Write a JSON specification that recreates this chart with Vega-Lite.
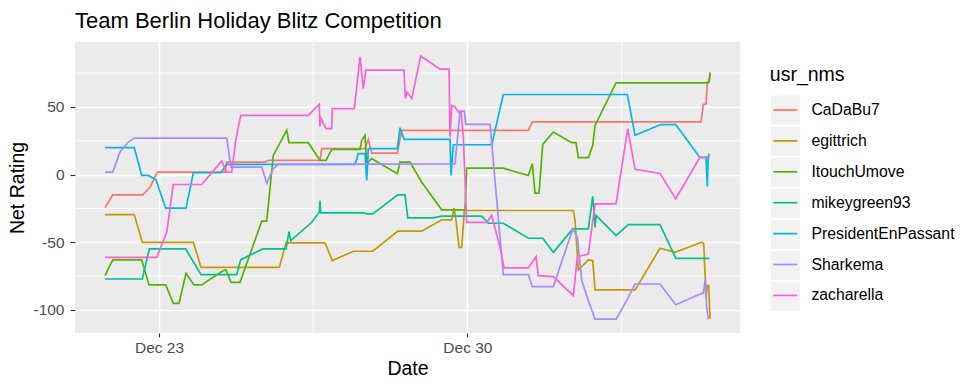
{
  "$schema": "https://vega.github.io/schema/vega-lite/v6.json",
  "width": 665,
  "height": 291,
  "autosize": {"type": "none"},
  "padding": {"left": 75, "top": 42, "right": 234, "bottom": 56},
  "background": "white",
  "view": {"fill": "#EBEBEB", "stroke": null},
  "title": {"text": "Team Berlin Holiday Blitz Competition", "anchor": "start", "frame": "group", "fontSize": 22, "font": "Liberation Sans", "fontWeight": "normal", "color": "black", "baseline": "alphabetic", "offset": 15.3, "dy": 23.7},
  "config": {
    "view": {"fill": "#EBEBEB", "stroke": null},
    "axis": {"domain": false, "labelFont": "Liberation Sans", "titleFont": "Liberation Sans", "labelFontSize": 15.5, "labelColor": "#4D4D4D", "tickColor": "#333333", "tickWidth": 1.1, "titleFontSize": 19.5, "titleFontWeight": "normal", "titleColor": "black", "gridColor": "white", "gridWidth": 1.6, "gridOpacity": 1}
  },
  "data": {"values": [
    {"usr_nms":"CaDaBu7","Date":"2018-12-21T18:35","Net_Rating":-24.5},
    {"usr_nms":"CaDaBu7","Date":"2018-12-21T22:47","Net_Rating":-14.9},
    {"usr_nms":"CaDaBu7","Date":"2018-12-22T15:07","Net_Rating":-14.9},
    {"usr_nms":"CaDaBu7","Date":"2018-12-22T19:06","Net_Rating":-9.3},
    {"usr_nms":"CaDaBu7","Date":"2018-12-22T23:04","Net_Rating":1.9},
    {"usr_nms":"CaDaBu7","Date":"2018-12-24T11:57","Net_Rating":1.9},
    {"usr_nms":"CaDaBu7","Date":"2018-12-24T12:53","Net_Rating":9.3},
    {"usr_nms":"CaDaBu7","Date":"2018-12-25T09:45","Net_Rating":9.3},
    {"usr_nms":"CaDaBu7","Date":"2018-12-25T11:33","Net_Rating":10.5},
    {"usr_nms":"CaDaBu7","Date":"2018-12-26T15:43","Net_Rating":10.5},
    {"usr_nms":"CaDaBu7","Date":"2018-12-26T16:38","Net_Rating":19.2},
    {"usr_nms":"CaDaBu7","Date":"2018-12-27T16:14","Net_Rating":19.2},
    {"usr_nms":"CaDaBu7","Date":"2018-12-27T18:02","Net_Rating":25.8},
    {"usr_nms":"CaDaBu7","Date":"2018-12-27T19:53","Net_Rating":15.9},
    {"usr_nms":"CaDaBu7","Date":"2018-12-28T09:50","Net_Rating":15.9},
    {"usr_nms":"CaDaBu7","Date":"2018-12-28T12:13","Net_Rating":32.7},
    {"usr_nms":"CaDaBu7","Date":"2018-12-31T09:11","Net_Rating":32.7},
    {"usr_nms":"CaDaBu7","Date":"2018-12-31T11:22","Net_Rating":39.0},
    {"usr_nms":"CaDaBu7","Date":"2019-01-04T07:17","Net_Rating":39.0},
    {"usr_nms":"CaDaBu7","Date":"2019-01-04T08:32","Net_Rating":52.0},
    {"usr_nms":"CaDaBu7","Date":"2019-01-04T10:00","Net_Rating":52.0},
    {"usr_nms":"CaDaBu7","Date":"2019-01-04T10:43","Net_Rating":68.5},
    {"usr_nms":"CaDaBu7","Date":"2019-01-04T11:38","Net_Rating":68.5},
    {"usr_nms":"CaDaBu7","Date":"2019-01-04T12:11","Net_Rating":75.5},

    {"usr_nms":"egittrich","Date":"2018-12-21T18:35","Net_Rating":-29.5},
    {"usr_nms":"egittrich","Date":"2018-12-22T10:32","Net_Rating":-29.5},
    {"usr_nms":"egittrich","Date":"2018-12-22T14:54","Net_Rating":-50.0},
    {"usr_nms":"egittrich","Date":"2018-12-23T18:41","Net_Rating":-50.0},
    {"usr_nms":"egittrich","Date":"2018-12-23T22:53","Net_Rating":-68.5},
    {"usr_nms":"egittrich","Date":"2018-12-25T17:32","Net_Rating":-68.5},
    {"usr_nms":"egittrich","Date":"2018-12-25T21:11","Net_Rating":-50.4},
    {"usr_nms":"egittrich","Date":"2018-12-26T18:26","Net_Rating":-50.4},
    {"usr_nms":"egittrich","Date":"2018-12-26T22:25","Net_Rating":-63.5},
    {"usr_nms":"egittrich","Date":"2018-12-27T09:51","Net_Rating":-56.6},
    {"usr_nms":"egittrich","Date":"2018-12-27T20:25","Net_Rating":-56.6},
    {"usr_nms":"egittrich","Date":"2018-12-28T10:02","Net_Rating":-41.8},
    {"usr_nms":"egittrich","Date":"2018-12-28T23:07","Net_Rating":-41.8},
    {"usr_nms":"egittrich","Date":"2018-12-29T10:01","Net_Rating":-33.4},
    {"usr_nms":"egittrich","Date":"2018-12-29T15:28","Net_Rating":-33.4},
    {"usr_nms":"egittrich","Date":"2018-12-29T16:43","Net_Rating":-24.8},
    {"usr_nms":"egittrich","Date":"2018-12-29T17:48","Net_Rating":-33.9},
    {"usr_nms":"egittrich","Date":"2018-12-29T19:26","Net_Rating":-53.7},
    {"usr_nms":"egittrich","Date":"2018-12-29T20:55","Net_Rating":-53.7},
    {"usr_nms":"egittrich","Date":"2018-12-29T22:20","Net_Rating":-26.5},
    {"usr_nms":"egittrich","Date":"2019-01-01T09:43","Net_Rating":-26.5},
    {"usr_nms":"egittrich","Date":"2019-01-01T10:38","Net_Rating":-33.9},
    {"usr_nms":"egittrich","Date":"2019-01-01T12:26","Net_Rating":-70.4},
    {"usr_nms":"egittrich","Date":"2019-01-01T17:53","Net_Rating":-63.0},
    {"usr_nms":"egittrich","Date":"2019-01-01T20:17","Net_Rating":-63.5},
    {"usr_nms":"egittrich","Date":"2019-01-01T21:32","Net_Rating":-85.2},
    {"usr_nms":"egittrich","Date":"2019-01-02T19:19","Net_Rating":-85.2},
    {"usr_nms":"egittrich","Date":"2019-01-03T08:56","Net_Rating":-54.4},
    {"usr_nms":"egittrich","Date":"2019-01-03T17:07","Net_Rating":-57.4},
    {"usr_nms":"egittrich","Date":"2019-01-04T07:40","Net_Rating":-50.0},
    {"usr_nms":"egittrich","Date":"2019-01-04T08:45","Net_Rating":-51.2},
    {"usr_nms":"egittrich","Date":"2019-01-04T10:00","Net_Rating":-90.7},
    {"usr_nms":"egittrich","Date":"2019-01-04T10:43","Net_Rating":-82.0},
    {"usr_nms":"egittrich","Date":"2019-01-04T11:29","Net_Rating":-82.0},
    {"usr_nms":"egittrich","Date":"2019-01-04T12:11","Net_Rating":-106.7},

    {"usr_nms":"ItouchUmove","Date":"2018-12-21T18:35","Net_Rating":-74.6},
    {"usr_nms":"ItouchUmove","Date":"2018-12-21T22:47","Net_Rating":-63.0},
    {"usr_nms":"ItouchUmove","Date":"2018-12-22T14:34","Net_Rating":-63.0},
    {"usr_nms":"ItouchUmove","Date":"2018-12-22T18:33","Net_Rating":-81.5},
    {"usr_nms":"ItouchUmove","Date":"2018-12-23T03:39","Net_Rating":-81.5},
    {"usr_nms":"ItouchUmove","Date":"2018-12-23T07:47","Net_Rating":-95.1},
    {"usr_nms":"ItouchUmove","Date":"2018-12-23T10:54","Net_Rating":-95.1},
    {"usr_nms":"ItouchUmove","Date":"2018-12-23T14:43","Net_Rating":-72.9},
    {"usr_nms":"ItouchUmove","Date":"2018-12-23T19:04","Net_Rating":-81.5},
    {"usr_nms":"ItouchUmove","Date":"2018-12-23T23:16","Net_Rating":-81.5},
    {"usr_nms":"ItouchUmove","Date":"2018-12-24T11:02","Net_Rating":-70.9},
    {"usr_nms":"ItouchUmove","Date":"2018-12-24T12:30","Net_Rating":-70.4},
    {"usr_nms":"ItouchUmove","Date":"2018-12-24T15:14","Net_Rating":-79.6},
    {"usr_nms":"ItouchUmove","Date":"2018-12-24T20:08","Net_Rating":-79.6},
    {"usr_nms":"ItouchUmove","Date":"2018-12-25T07:57","Net_Rating":-34.4},
    {"usr_nms":"ItouchUmove","Date":"2018-12-25T10:40","Net_Rating":-34.4},
    {"usr_nms":"ItouchUmove","Date":"2018-12-25T14:16","Net_Rating":14.2},
    {"usr_nms":"ItouchUmove","Date":"2018-12-25T21:34","Net_Rating":32.7},
    {"usr_nms":"ItouchUmove","Date":"2018-12-25T22:49","Net_Rating":23.6},
    {"usr_nms":"ItouchUmove","Date":"2018-12-26T09:20","Net_Rating":23.6},
    {"usr_nms":"ItouchUmove","Date":"2018-12-26T15:43","Net_Rating":10.5},
    {"usr_nms":"ItouchUmove","Date":"2018-12-26T18:59","Net_Rating":10.5},
    {"usr_nms":"ItouchUmove","Date":"2018-12-26T22:05","Net_Rating":18.7},
    {"usr_nms":"ItouchUmove","Date":"2018-12-27T13:30","Net_Rating":18.7},
    {"usr_nms":"ItouchUmove","Date":"2018-12-27T14:26","Net_Rating":25.3},
    {"usr_nms":"ItouchUmove","Date":"2018-12-27T16:14","Net_Rating":29.0},
    {"usr_nms":"ItouchUmove","Date":"2018-12-27T17:09","Net_Rating":8.3},
    {"usr_nms":"ItouchUmove","Date":"2018-12-27T19:53","Net_Rating":11.8},
    {"usr_nms":"ItouchUmove","Date":"2018-12-28T09:50","Net_Rating":0.7},
    {"usr_nms":"ItouchUmove","Date":"2018-12-28T11:18","Net_Rating":9.3},
    {"usr_nms":"ItouchUmove","Date":"2018-12-28T16:45","Net_Rating":9.3},
    {"usr_nms":"ItouchUmove","Date":"2018-12-28T23:07","Net_Rating":-5.6},
    {"usr_nms":"ItouchUmove","Date":"2018-12-29T10:01","Net_Rating":-26.0},
    {"usr_nms":"ItouchUmove","Date":"2018-12-29T22:42","Net_Rating":-26.0},
    {"usr_nms":"ItouchUmove","Date":"2018-12-29T23:38","Net_Rating":4.8},
    {"usr_nms":"ItouchUmove","Date":"2018-12-30T19:34","Net_Rating":4.8},
    {"usr_nms":"ItouchUmove","Date":"2018-12-31T09:11","Net_Rating":-0.6},
    {"usr_nms":"ItouchUmove","Date":"2018-12-31T11:22","Net_Rating":8.1},
    {"usr_nms":"ItouchUmove","Date":"2018-12-31T12:50","Net_Rating":-13.7},
    {"usr_nms":"ItouchUmove","Date":"2018-12-31T15:01","Net_Rating":-13.7},
    {"usr_nms":"ItouchUmove","Date":"2018-12-31T17:02","Net_Rating":22.4},
    {"usr_nms":"ItouchUmove","Date":"2018-12-31T22:49","Net_Rating":31.5},
    {"usr_nms":"ItouchUmove","Date":"2019-01-01T08:50","Net_Rating":23.6},
    {"usr_nms":"ItouchUmove","Date":"2019-01-01T11:11","Net_Rating":23.6},
    {"usr_nms":"ItouchUmove","Date":"2019-01-01T12:26","Net_Rating":12.5},
    {"usr_nms":"ItouchUmove","Date":"2019-01-01T17:53","Net_Rating":12.5},
    {"usr_nms":"ItouchUmove","Date":"2019-01-01T20:17","Net_Rating":21.6},
    {"usr_nms":"ItouchUmove","Date":"2019-01-01T21:32","Net_Rating":36.4},
    {"usr_nms":"ItouchUmove","Date":"2019-01-02T08:58","Net_Rating":67.8},
    {"usr_nms":"ItouchUmove","Date":"2019-01-04T11:16","Net_Rating":67.8},
    {"usr_nms":"ItouchUmove","Date":"2019-01-04T11:48","Net_Rating":70.3},
    {"usr_nms":"ItouchUmove","Date":"2019-01-04T12:11","Net_Rating":74.7},

    {"usr_nms":"mikeygreen93","Date":"2018-12-21T18:35","Net_Rating":-77.1},
    {"usr_nms":"mikeygreen93","Date":"2018-12-22T14:54","Net_Rating":-77.1},
    {"usr_nms":"mikeygreen93","Date":"2018-12-22T18:43","Net_Rating":-54.9},
    {"usr_nms":"mikeygreen93","Date":"2018-12-23T14:33","Net_Rating":-54.9},
    {"usr_nms":"mikeygreen93","Date":"2018-12-23T22:53","Net_Rating":-73.9},
    {"usr_nms":"mikeygreen93","Date":"2018-12-24T18:20","Net_Rating":-73.9},
    {"usr_nms":"mikeygreen93","Date":"2018-12-24T20:31","Net_Rating":-62.8},
    {"usr_nms":"mikeygreen93","Date":"2018-12-25T08:30","Net_Rating":-54.9},
    {"usr_nms":"mikeygreen93","Date":"2018-12-25T21:11","Net_Rating":-54.9},
    {"usr_nms":"mikeygreen93","Date":"2018-12-25T22:49","Net_Rating":-42.1},
    {"usr_nms":"mikeygreen93","Date":"2018-12-25T23:45","Net_Rating":-48.7},
    {"usr_nms":"mikeygreen93","Date":"2018-12-26T11:11","Net_Rating":-35.2},
    {"usr_nms":"mikeygreen93","Date":"2018-12-26T15:20","Net_Rating":-27.8},
    {"usr_nms":"mikeygreen93","Date":"2018-12-26T15:43","Net_Rating":-19.1},
    {"usr_nms":"mikeygreen93","Date":"2018-12-26T16:05","Net_Rating":-28.2},
    {"usr_nms":"mikeygreen93","Date":"2018-12-27T15:41","Net_Rating":-28.2},
    {"usr_nms":"mikeygreen93","Date":"2018-12-27T17:09","Net_Rating":-29.0},
    {"usr_nms":"mikeygreen93","Date":"2018-12-27T20:25","Net_Rating":-29.0},
    {"usr_nms":"mikeygreen93","Date":"2018-12-28T10:02","Net_Rating":-14.9},
    {"usr_nms":"mikeygreen93","Date":"2018-12-28T14:01","Net_Rating":-14.9},
    {"usr_nms":"mikeygreen93","Date":"2018-12-28T15:29","Net_Rating":-31.9},
    {"usr_nms":"mikeygreen93","Date":"2018-12-29T05:26","Net_Rating":-31.9},
    {"usr_nms":"mikeygreen93","Date":"2018-12-29T10:01","Net_Rating":-30.7},
    {"usr_nms":"mikeygreen93","Date":"2018-12-30T07:49","Net_Rating":-30.7},
    {"usr_nms":"mikeygreen93","Date":"2018-12-30T11:24","Net_Rating":-35.9},
    {"usr_nms":"mikeygreen93","Date":"2018-12-30T19:34","Net_Rating":-35.9},
    {"usr_nms":"mikeygreen93","Date":"2018-12-31T09:11","Net_Rating":-47.0},
    {"usr_nms":"mikeygreen93","Date":"2018-12-31T17:02","Net_Rating":-47.0},
    {"usr_nms":"mikeygreen93","Date":"2018-12-31T22:49","Net_Rating":-57.4},
    {"usr_nms":"mikeygreen93","Date":"2019-01-01T09:23","Net_Rating":-40.1},
    {"usr_nms":"mikeygreen93","Date":"2019-01-01T17:53","Net_Rating":-40.1},
    {"usr_nms":"mikeygreen93","Date":"2019-01-01T20:17","Net_Rating":-16.1},
    {"usr_nms":"mikeygreen93","Date":"2019-01-01T21:32","Net_Rating":-38.9},
    {"usr_nms":"mikeygreen93","Date":"2019-01-01T22:05","Net_Rating":-30.2},
    {"usr_nms":"mikeygreen93","Date":"2019-01-02T08:58","Net_Rating":-45.0},
    {"usr_nms":"mikeygreen93","Date":"2019-01-02T15:40","Net_Rating":-36.9},
    {"usr_nms":"mikeygreen93","Date":"2019-01-03T08:56","Net_Rating":-36.9},
    {"usr_nms":"mikeygreen93","Date":"2019-01-03T17:30","Net_Rating":-61.8},
    {"usr_nms":"mikeygreen93","Date":"2019-01-04T11:48","Net_Rating":-61.8},

    {"usr_nms":"PresidentEnPassant","Date":"2018-12-21T18:35","Net_Rating":19.9},
    {"usr_nms":"PresidentEnPassant","Date":"2018-12-22T10:32","Net_Rating":19.9},
    {"usr_nms":"PresidentEnPassant","Date":"2018-12-22T14:34","Net_Rating":-0.6},
    {"usr_nms":"PresidentEnPassant","Date":"2018-12-22T18:10","Net_Rating":-0.6},
    {"usr_nms":"PresidentEnPassant","Date":"2018-12-22T22:22","Net_Rating":-3.8},
    {"usr_nms":"PresidentEnPassant","Date":"2018-12-23T03:39","Net_Rating":-24.8},
    {"usr_nms":"PresidentEnPassant","Date":"2018-12-23T14:43","Net_Rating":-24.8},
    {"usr_nms":"PresidentEnPassant","Date":"2018-12-23T18:41","Net_Rating":1.4},
    {"usr_nms":"PresidentEnPassant","Date":"2018-12-24T09:37","Net_Rating":1.4},
    {"usr_nms":"PresidentEnPassant","Date":"2018-12-24T12:53","Net_Rating":7.6},
    {"usr_nms":"PresidentEnPassant","Date":"2018-12-27T10:47","Net_Rating":7.6},
    {"usr_nms":"PresidentEnPassant","Date":"2018-12-27T12:35","Net_Rating":15.5},
    {"usr_nms":"PresidentEnPassant","Date":"2018-12-27T16:14","Net_Rating":15.5},
    {"usr_nms":"PresidentEnPassant","Date":"2018-12-27T17:09","Net_Rating":-4.3},
    {"usr_nms":"PresidentEnPassant","Date":"2018-12-27T18:02","Net_Rating":19.2},
    {"usr_nms":"PresidentEnPassant","Date":"2018-12-28T09:50","Net_Rating":19.2},
    {"usr_nms":"PresidentEnPassant","Date":"2018-12-28T11:18","Net_Rating":34.7},
    {"usr_nms":"PresidentEnPassant","Date":"2018-12-28T13:29","Net_Rating":26.1},
    {"usr_nms":"PresidentEnPassant","Date":"2018-12-29T14:32","Net_Rating":26.1},
    {"usr_nms":"PresidentEnPassant","Date":"2018-12-29T15:05","Net_Rating":-0.6},
    {"usr_nms":"PresidentEnPassant","Date":"2018-12-29T16:20","Net_Rating":22.1},
    {"usr_nms":"PresidentEnPassant","Date":"2018-12-30T13:15","Net_Rating":22.1},
    {"usr_nms":"PresidentEnPassant","Date":"2018-12-30T19:34","Net_Rating":59.2},
    {"usr_nms":"PresidentEnPassant","Date":"2019-01-02T15:08","Net_Rating":59.2},
    {"usr_nms":"PresidentEnPassant","Date":"2019-01-02T19:19","Net_Rating":29.0},
    {"usr_nms":"PresidentEnPassant","Date":"2019-01-03T09:20","Net_Rating":37.0},
    {"usr_nms":"PresidentEnPassant","Date":"2019-01-03T17:30","Net_Rating":37.0},
    {"usr_nms":"PresidentEnPassant","Date":"2019-01-04T06:44","Net_Rating":12.5},
    {"usr_nms":"PresidentEnPassant","Date":"2019-01-04T10:00","Net_Rating":12.5},
    {"usr_nms":"PresidentEnPassant","Date":"2019-01-04T10:43","Net_Rating":-8.7},
    {"usr_nms":"PresidentEnPassant","Date":"2019-01-04T11:06","Net_Rating":10.5},
    {"usr_nms":"PresidentEnPassant","Date":"2019-01-04T11:38","Net_Rating":15.5},

    {"usr_nms":"Sharkema","Date":"2018-12-21T18:35","Net_Rating":1.9},
    {"usr_nms":"Sharkema","Date":"2018-12-21T22:47","Net_Rating":1.9},
    {"usr_nms":"Sharkema","Date":"2018-12-22T02:45","Net_Rating":16.7},
    {"usr_nms":"Sharkema","Date":"2018-12-22T07:16","Net_Rating":24.1},
    {"usr_nms":"Sharkema","Date":"2018-12-22T10:32","Net_Rating":27.0},
    {"usr_nms":"Sharkema","Date":"2018-12-24T12:53","Net_Rating":27.0},
    {"usr_nms":"Sharkema","Date":"2018-12-24T15:14","Net_Rating":5.6},
    {"usr_nms":"Sharkema","Date":"2018-12-25T07:57","Net_Rating":5.6},
    {"usr_nms":"Sharkema","Date":"2018-12-25T10:40","Net_Rating":-6.3},
    {"usr_nms":"Sharkema","Date":"2018-12-25T14:16","Net_Rating":4.4},
    {"usr_nms":"Sharkema","Date":"2018-12-25T16:59","Net_Rating":7.6},
    {"usr_nms":"Sharkema","Date":"2018-12-29T17:16","Net_Rating":7.9},
    {"usr_nms":"Sharkema","Date":"2018-12-29T19:59","Net_Rating":47.0},
    {"usr_nms":"Sharkema","Date":"2018-12-29T22:20","Net_Rating":47.0},
    {"usr_nms":"Sharkema","Date":"2018-12-29T23:05","Net_Rating":37.2},
    {"usr_nms":"Sharkema","Date":"2018-12-30T12:20","Net_Rating":37.2},
    {"usr_nms":"Sharkema","Date":"2018-12-30T19:34","Net_Rating":-73.9},
    {"usr_nms":"Sharkema","Date":"2018-12-31T09:11","Net_Rating":-73.9},
    {"usr_nms":"Sharkema","Date":"2018-12-31T11:22","Net_Rating":-82.8},
    {"usr_nms":"Sharkema","Date":"2018-12-31T22:49","Net_Rating":-82.8},
    {"usr_nms":"Sharkema","Date":"2019-01-01T09:23","Net_Rating":-40.1},
    {"usr_nms":"Sharkema","Date":"2019-01-01T11:53","Net_Rating":-46.3},
    {"usr_nms":"Sharkema","Date":"2019-01-01T14:17","Net_Rating":-78.3},
    {"usr_nms":"Sharkema","Date":"2019-01-01T17:53","Net_Rating":-93.1},
    {"usr_nms":"Sharkema","Date":"2019-01-01T21:32","Net_Rating":-106.7},
    {"usr_nms":"Sharkema","Date":"2019-01-02T08:58","Net_Rating":-106.7},
    {"usr_nms":"Sharkema","Date":"2019-01-02T14:48","Net_Rating":-93.1},
    {"usr_nms":"Sharkema","Date":"2019-01-02T19:19","Net_Rating":-80.8},
    {"usr_nms":"Sharkema","Date":"2019-01-03T08:56","Net_Rating":-80.8},
    {"usr_nms":"Sharkema","Date":"2019-01-03T17:30","Net_Rating":-96.1},
    {"usr_nms":"Sharkema","Date":"2019-01-04T07:40","Net_Rating":-87.7},
    {"usr_nms":"Sharkema","Date":"2019-01-04T08:32","Net_Rating":-87.7},
    {"usr_nms":"Sharkema","Date":"2019-01-04T09:37","Net_Rating":-77.1},
    {"usr_nms":"Sharkema","Date":"2019-01-04T10:23","Net_Rating":-98.1},
    {"usr_nms":"Sharkema","Date":"2019-01-04T11:16","Net_Rating":-106.7},

    {"usr_nms":"zacharella","Date":"2018-12-21T18:35","Net_Rating":-61.1},
    {"usr_nms":"zacharella","Date":"2018-12-22T22:45","Net_Rating":-61.1},
    {"usr_nms":"zacharella","Date":"2018-12-23T04:12","Net_Rating":-42.6},
    {"usr_nms":"zacharella","Date":"2018-12-23T07:47","Net_Rating":-7.3},
    {"usr_nms":"zacharella","Date":"2018-12-23T23:16","Net_Rating":-7.3},
    {"usr_nms":"zacharella","Date":"2018-12-24T10:10","Net_Rating":10.0},
    {"usr_nms":"zacharella","Date":"2018-12-24T12:53","Net_Rating":1.9},
    {"usr_nms":"zacharella","Date":"2018-12-24T15:37","Net_Rating":1.9},
    {"usr_nms":"zacharella","Date":"2018-12-24T17:47","Net_Rating":25.3},
    {"usr_nms":"zacharella","Date":"2018-12-24T20:31","Net_Rating":43.8},
    {"usr_nms":"zacharella","Date":"2018-12-26T09:20","Net_Rating":43.8},
    {"usr_nms":"zacharella","Date":"2018-12-26T15:20","Net_Rating":52.0},
    {"usr_nms":"zacharella","Date":"2018-12-26T15:36","Net_Rating":35.7},
    {"usr_nms":"zacharella","Date":"2018-12-26T16:16","Net_Rating":41.4},
    {"usr_nms":"zacharella","Date":"2018-12-26T18:59","Net_Rating":34.0},
    {"usr_nms":"zacharella","Date":"2018-12-26T22:05","Net_Rating":34.0},
    {"usr_nms":"zacharella","Date":"2018-12-26T22:25","Net_Rating":48.8},
    {"usr_nms":"zacharella","Date":"2018-12-27T10:24","Net_Rating":48.8},
    {"usr_nms":"zacharella","Date":"2018-12-27T13:30","Net_Rating":87.0},
    {"usr_nms":"zacharella","Date":"2018-12-27T15:18","Net_Rating":63.6},
    {"usr_nms":"zacharella","Date":"2018-12-27T16:37","Net_Rating":77.2},
    {"usr_nms":"zacharella","Date":"2018-12-28T13:29","Net_Rating":77.2},
    {"usr_nms":"zacharella","Date":"2018-12-28T14:11","Net_Rating":56.2},
    {"usr_nms":"zacharella","Date":"2018-12-28T15:07","Net_Rating":60.9},
    {"usr_nms":"zacharella","Date":"2018-12-28T17:40","Net_Rating":56.2},
    {"usr_nms":"zacharella","Date":"2018-12-28T22:34","Net_Rating":87.7},
    {"usr_nms":"zacharella","Date":"2018-12-29T09:05","Net_Rating":77.9},
    {"usr_nms":"zacharella","Date":"2018-12-29T13:59","Net_Rating":77.9},
    {"usr_nms":"zacharella","Date":"2018-12-29T14:32","Net_Rating":27.8},
    {"usr_nms":"zacharella","Date":"2018-12-29T15:28","Net_Rating":51.2},
    {"usr_nms":"zacharella","Date":"2018-12-29T17:16","Net_Rating":50.0},
    {"usr_nms":"zacharella","Date":"2018-12-29T19:04","Net_Rating":46.3},
    {"usr_nms":"zacharella","Date":"2018-12-29T20:32","Net_Rating":46.3},
    {"usr_nms":"zacharella","Date":"2018-12-29T21:47","Net_Rating":27.8},
    {"usr_nms":"zacharella","Date":"2018-12-29T23:38","Net_Rating":-35.2},
    {"usr_nms":"zacharella","Date":"2018-12-30T10:32","Net_Rating":-35.2},
    {"usr_nms":"zacharella","Date":"2018-12-30T13:15","Net_Rating":-30.2},
    {"usr_nms":"zacharella","Date":"2018-12-30T17:47","Net_Rating":-53.7},
    {"usr_nms":"zacharella","Date":"2018-12-30T19:58","Net_Rating":-68.9},
    {"usr_nms":"zacharella","Date":"2018-12-31T09:11","Net_Rating":-68.9},
    {"usr_nms":"zacharella","Date":"2018-12-31T13:23","Net_Rating":-60.6},
    {"usr_nms":"zacharella","Date":"2018-12-31T14:38","Net_Rating":-74.6},
    {"usr_nms":"zacharella","Date":"2018-12-31T22:49","Net_Rating":-75.4},
    {"usr_nms":"zacharella","Date":"2019-01-01T09:43","Net_Rating":-89.4},
    {"usr_nms":"zacharella","Date":"2019-01-01T11:53","Net_Rating":-60.6},
    {"usr_nms":"zacharella","Date":"2019-01-01T17:53","Net_Rating":-58.6},
    {"usr_nms":"zacharella","Date":"2019-01-01T21:32","Net_Rating":-21.6},
    {"usr_nms":"zacharella","Date":"2019-01-02T08:58","Net_Rating":-21.6},
    {"usr_nms":"zacharella","Date":"2019-01-02T15:21","Net_Rating":34.0},
    {"usr_nms":"zacharella","Date":"2019-01-02T19:19","Net_Rating":3.9},
    {"usr_nms":"zacharella","Date":"2019-01-03T08:56","Net_Rating":0.9},
    {"usr_nms":"zacharella","Date":"2019-01-03T17:30","Net_Rating":-17.8},
    {"usr_nms":"zacharella","Date":"2019-01-04T06:44","Net_Rating":13.0},
    {"usr_nms":"zacharella","Date":"2019-01-04T11:48","Net_Rating":13.0}
  ]},
  "layer": [
    {
      "data": {"values": [{"gy": 75}, {"gy": 25}, {"gy": -25}, {"gy": -75}]},
      "mark": {"type": "rule", "color": "white", "strokeWidth": 0.8},
      "encoding": {
        "y": {"field": "gy", "type": "quantitative", "scale": {"domain": [-117, 98], "nice": false, "zero": false}}
      }
    },
    {
      "data": {"values": [{"gx": "2018-12-26T12:00"}, {"gx": "2019-01-02T12:00"}]},
      "mark": {"type": "rule", "color": "white", "strokeWidth": 0.8},
      "encoding": {
        "x": {"field": "gx", "type": "temporal", "scale": {"domain": [{"year": 2018, "month": 12, "date": 21, "hours": 2, "minutes": 14}, {"year": 2019, "month": 1, "date": 5, "hours": 4, "minutes": 30}], "nice": false}}
      }
    },
    {
      "mark": {"type": "square", "opacity": 0},
      "encoding": {
        "fill": {
          "field": "keybox", "type": "nominal",
          "scale": {"domain": ["k1", "k2", "k3", "k4", "k5", "k6", "k7"], "range": ["#F2F2F2", "#F2F2F2", "#F2F2F2", "#F2F2F2", "#F2F2F2", "#F2F2F2", "#F2F2F2"]},
          "legend": {"orient": "none", "legendX": 695.8, "legendY": 24.3, "direction": "vertical", "title": "usr_nms", "titleFontSize": 19.5, "titleFont": "Liberation Sans", "titleFontWeight": "normal", "titleColor": "rgba(0,0,0,0)", "titlePadding": 9.7, "labelFontSize": 15.8, "labelFont": "Liberation Sans", "labelColor": "rgba(0,0,0,0)", "labelExpr": "''", "labelOffset": 10.6, "labelLimit": 300, "symbolType": "M-1,-1H1V1H-1Z", "symbolSize": 841, "symbolStrokeWidth": 0, "symbolStrokeColor": "rgba(0,0,0,0)", "symbolOpacity": 1, "rowPadding": 2.1, "padding": 0, "zindex": 0}
        }
      }
    },
    {
      "mark": {"type": "line", "strokeWidth": 1.7},
      "encoding": {
        "x": {"field": "Date", "type": "temporal", "scale": {"domain": [{"year": 2018, "month": 12, "date": 21, "hours": 2, "minutes": 14}, {"year": 2019, "month": 1, "date": 5, "hours": 4, "minutes": 30}], "nice": false},
          "axis": {"values": [{"year": 2018, "month": 12, "date": 23}, {"year": 2018, "month": 12, "date": 30}], "format": "%b %d", "tickSize": 4, "labelPadding": 3, "title": "Date", "titlePadding": 4, "labelFlush": false, "labelOverlap": false, "grid": true}},
        "y": {"field": "Net_Rating", "type": "quantitative", "scale": {"domain": [-117, 98], "nice": false, "zero": false},
          "axis": {"values": [-100, -50, 0, 50], "tickSize": 5, "labelPadding": 6, "title": "Net Rating", "titlePadding": 5, "labelExpr": "'' + datum.value", "grid": true}},
        "color": {
          "field": "usr_nms", "type": "nominal",
          "scale": {"domain": ["CaDaBu7", "egittrich", "ItouchUmove", "mikeygreen93", "PresidentEnPassant", "Sharkema", "zacharella"], "range": ["#F8766D", "#C49A00", "#53B400", "#00C094", "#00B6EB", "#A58AFF", "#FB61D7"]},
          "legend": {"orient": "none", "legendX": 694.8, "legendY": 24.3, "direction": "vertical", "title": "usr_nms", "titleFontSize": 19.5, "titleFont": "Liberation Sans", "titleFontWeight": "normal", "titleColor": "black", "titlePadding": 8.7, "labelFontSize": 15.8, "labelFont": "Liberation Sans", "labelColor": "black", "labelOffset": 10.6, "labelLimit": 300, "symbolType": "M-0.83,0H0.83", "symbolSize": 841, "symbolStrokeWidth": 1.7, "symbolOpacity": 1, "rowPadding": 6.9, "padding": 0, "zindex": 1}
        }
      }
    }
  ]
}
